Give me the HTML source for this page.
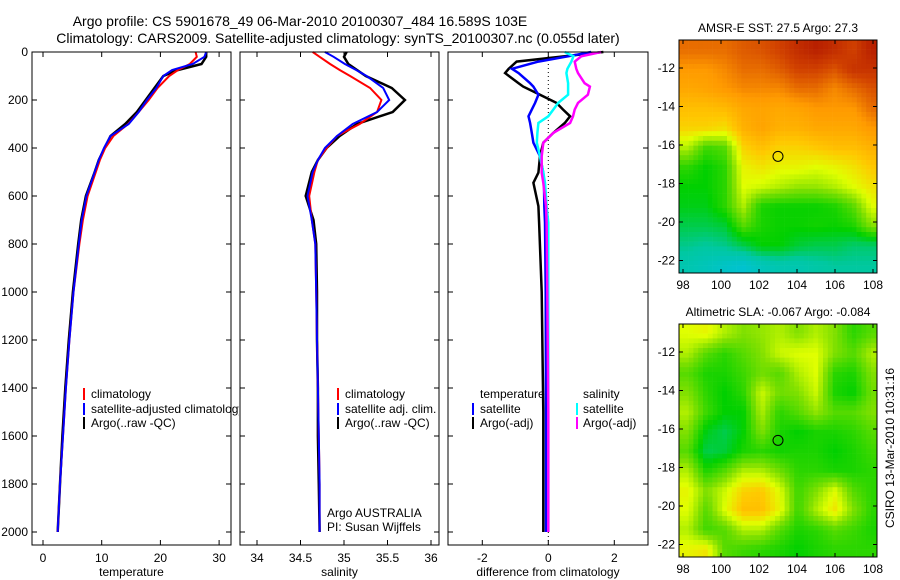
<!DOCTYPE html>
<html><head><meta charset="utf-8"><style>
body{margin:0;background:#fff}
svg{display:block;font-family:"Liberation Sans",sans-serif;font-size:12px}
</style></head><body>
<svg id="c" width="900" height="580" viewBox="0 0 900 580">
<defs><clipPath id="clipT"><rect x="32" y="52" width="207" height="493"/></clipPath></defs>
</svg>
<script>
const depthP=[0,20,50,75,100,150,200,250,300,350,400,450,500,600,700,800,1000,1200,1400,1600,1800,2000];
const argoT=[27.8,27.8,27,23,20.5,19,17.5,16,14,11.5,10.5,9.5,8.8,7.3,6.5,6,5.1,4.4,3.8,3.3,2.9,2.5];
const climT=[26,26.2,25,23,21.5,19.5,18,16.3,14.5,12,10.6,9.7,9,7.6,6.8,6.2,5.2,4.5,3.9,3.4,2.9,2.5];
const satT=[27.8,27.5,25.5,22,20.5,19.3,17.7,16.3,14.6,11.5,10.4,9.5,8.8,7.4,6.6,6.1,5.2,4.5,3.9,3.4,2.9,2.5];
const argoS=[35.03,35.0,35.05,35.15,35.25,35.55,35.7,35.56,35.15,34.95,34.8,34.7,34.63,34.56,34.65,34.68,34.69,34.69,34.7,34.7,34.71,34.72];
const climS=[34.64,34.72,34.84,34.95,35.07,35.3,35.43,35.38,35.18,34.92,34.8,34.7,34.66,34.6,34.63,34.67,34.68,34.69,34.7,34.71,34.72,34.72];
const satS=[34.78,34.88,35.01,35.14,35.26,35.45,35.52,35.38,35.1,34.92,34.78,34.7,34.64,34.58,34.63,34.67,34.68,34.69,34.7,34.71,34.72,34.72];
const depthD=[0,18,40,70,88,130,144,178,212,240,268,296,337,378,434,503,545,642,711,1000,1500,2000];
const argoDT=[1.67,0.5,-0.96,-1.2,-1.31,-0.9,-0.76,-0.25,0.25,0.45,0.66,0.5,0.15,-0.15,-0.25,-0.3,-0.45,-0.3,-0.28,-0.2,-0.15,-0.15];
const satDT=[1.3,0.6,-0.3,-1.1,-0.9,-0.55,-0.45,-0.3,-0.4,-0.5,-0.6,-0.55,-0.5,-0.45,-0.25,-0.15,-0.13,-0.12,-0.1,-0.08,-0.07,-0.07];
const satDS=[0.5,0.76,0.7,0.58,0.55,0.6,0.6,0.6,0.3,0.15,0.0,-0.3,-0.33,-0.35,-0.25,-0.15,-0.1,-0.05,0,0,0,0];
const argoDS=[1.6,1.0,0.8,0.85,0.9,1.1,1.26,1.2,0.9,0.8,0.75,0.66,0.15,-0.15,-0.2,-0.2,-0.15,-0.07,-0.05,-0.03,0,0];
const depthTicks=[0,200,400,600,800,1000,1200,1400,1600,1800,2000];
const tempTicks=[0,10,20,30];
const salTicks=[34,34.5,35,35.5,36];
const diffTicks=[-2,0,2];
const lonTicks=[98,100,102,104,106,108];
const latTicks=[-12,-14,-16,-18,-20,-22];
const floatLon=103, floatLat=-16.589;
const sstGrid=[
[0.85,0.85,0.85,0.87,0.88,0.9,0.93,0.95,0.93,0.9,0.95],
[0.8,0.8,0.82,0.85,0.85,0.87,0.9,0.9,0.88,0.92,0.92],
[0.77,0.78,0.8,0.82,0.82,0.82,0.85,0.85,0.82,0.85,0.88],
[0.72,0.72,0.73,0.77,0.78,0.77,0.78,0.8,0.8,0.8,0.85],
[0.68,0.68,0.66,0.75,0.78,0.75,0.75,0.77,0.77,0.77,0.8],
[0.55,0.42,0.45,0.68,0.72,0.68,0.68,0.7,0.72,0.72,0.75],
[0.4,0.35,0.4,0.62,0.65,0.62,0.62,0.6,0.62,0.65,0.7],
[0.35,0.35,0.4,0.6,0.58,0.55,0.52,0.52,0.55,0.6,0.65],
[0.33,0.33,0.4,0.55,0.38,0.36,0.36,0.36,0.38,0.45,0.6],
[0.28,0.28,0.3,0.45,0.38,0.36,0.36,0.37,0.36,0.38,0.5],
[0.22,0.2,0.22,0.28,0.35,0.35,0.3,0.28,0.28,0.25,0.25],
[0.15,0.12,0.08,0.05,0.12,0.15,0.15,0.18,0.2,0.2,0.2]];
const slaGrid=[
[0.6,0.62,0.55,0.5,0.52,0.55,0.5,0.55,0.5,0.4,0.45],
[0.55,0.45,0.4,0.45,0.5,0.58,0.6,0.6,0.5,0.45,0.55],
[0.45,0.38,0.38,0.42,0.48,0.45,0.55,0.6,0.4,0.38,0.5],
[0.5,0.4,0.35,0.4,0.58,0.48,0.5,0.58,0.38,0.35,0.48],
[0.55,0.42,0.35,0.35,0.55,0.4,0.45,0.52,0.45,0.45,0.5],
[0.5,0.33,0.28,0.35,0.5,0.38,0.35,0.38,0.38,0.4,0.45],
[0.45,0.28,0.3,0.38,0.4,0.37,0.38,0.38,0.35,0.38,0.42],
[0.55,0.38,0.45,0.55,0.55,0.48,0.4,0.4,0.38,0.38,0.4],
[0.62,0.5,0.58,0.68,0.7,0.6,0.42,0.5,0.6,0.45,0.4],
[0.6,0.45,0.6,0.72,0.72,0.62,0.42,0.55,0.65,0.5,0.4],
[0.55,0.42,0.45,0.55,0.55,0.45,0.38,0.4,0.45,0.42,0.38],
[0.62,0.65,0.45,0.42,0.4,0.38,0.35,0.38,0.4,0.4,0.4]];

const svg=document.getElementById('c');const NS='http://www.w3.org/2000/svg';
function mk(t,a,p){const e=document.createElementNS(NS,t);for(const k in a)e.setAttribute(k,a[k]);(p||svg).appendChild(e);return e;}
function txt(s,x,y,anchor,p,extra){const e=mk('text',Object.assign({x:x,y:y,'text-anchor':anchor||'start',fill:'#000'},extra||{}),p);e.textContent=s;return e;}
const TOP=52,BOT=545;
function yD(d){return TOP+d*0.24;}
const panels=[
 {name:'temperature',x0:32,x1:231,v0:0,px0:43,scale:5.87,ticks:tempTicks,label:'temperature'},
 {name:'salinity',x0:240,x1:439,v0:34,px0:257,scale:87,ticks:salTicks,label:'salinity'},
 {name:'difference',x0:448,x1:648,v0:0,px0:548.3,scale:33,ticks:diffTicks,label:'difference from climatology'}];
function xf(p,v){return p.px0+(v-p.v0)*p.scale;}
function line(p,vals,deps,color,w,nm){
  const g=mk('g',{},p.g);
  const d=vals.map((v,i)=>(i?'L':'M')+xf(p,v).toFixed(1)+','+yD(deps[i]).toFixed(1)).join('');
  mk('path',{d:d,fill:'none',stroke:color,'stroke-width':w},g);
}
panels.forEach((p,pi)=>{
  const g=mk('g',{});
  mk('rect',{x:p.x0,y:TOP,width:p.x1-p.x0,height:BOT-TOP,fill:'#fff',stroke:'none'},g);
  p.g=g;
});
const [P1,P2,P3]=panels;
mk('line',{x1:xf(P3,0),x2:xf(P3,0),y1:TOP,y2:BOT,stroke:'#000','stroke-dasharray':'1,3','stroke-width':1},P3.g);
line(P1,argoT,depthP,'#000',2.5,'argo-temperature-line');
line(P1,climT,depthP,'#f00',2,'climatology-temperature-line');
line(P1,satT,depthP,'#00f',2,'satellite-temperature-line');
line(P2,argoS,depthP,'#000',2.5,'argo-salinity-line');
line(P2,climS,depthP,'#f00',2,'climatology-salinity-line');
line(P2,satS,depthP,'#00f',2,'satellite-salinity-line');
line(P3,argoDT,depthD,'#000',2.5,'argo-temperature-diff-line');
line(P3,satDT,depthD,'#00f',2.5,'satellite-temperature-diff-line');
line(P3,satDS,depthD,'#0ff',2.5,'satellite-salinity-diff-line');
line(P3,argoDS,depthD,'#f0f',2.5,'argo-salinity-diff-line');
function leg(entries,bx,tx,ys,nm,parent){entries.forEach((e,i)=>{const g=mk('g',{},parent);
 if(e[1])mk('rect',{x:bx,y:ys[i]-9,width:2,height:12,fill:e[1]},g);txt(e[0],tx,ys[i]+1,'start',g);});}
const lgT=mk('g',{'clip-path':'url(#clipT)'});
leg([['climatology','#f00'],['satellite-adjusted climatology','#00f'],['Argo(..raw -QC)','#000']],83,91,[397,412,426],'temperature-legend-entry',lgT);
leg([['climatology','#f00'],['satellite adj. clim.','#00f'],['Argo(..raw -QC)','#000']],337,345,[397,412,426],'salinity-legend-entry',P2.g);
leg([['temperature',null],['satellite','#00f'],['Argo(-adj)','#000']],472,480,[397,412,426],'diff-temp-legend',P3.g);
leg([['salinity',null],['satellite','#0ff'],['Argo(-adj)','#f0f']],576,583,[397,412,426],'diff-sal-legend',P3.g);
txt('Argo AUSTRALIA',327,517,'start',P2.g);txt('PI: Susan Wijffels',327,531,'start',P2.g);
// repaint panel 2 left edge over overflowing legend is handled by clip
panels.forEach((p,pi)=>{
  const g=mk('g',{});
  mk('rect',{x:p.x0,y:TOP,width:p.x1-p.x0,height:BOT-TOP,fill:'none',stroke:'#000','stroke-width':1},g);
  p.ticks.forEach(t=>{const x=xf(p,t);mk('line',{x1:x,x2:x,y1:BOT,y2:BOT-5,stroke:'#000'},g);mk('line',{x1:x,x2:x,y1:TOP,y2:TOP+5,stroke:'#000'},g);
   const l=txt(String(t),x,562,'middle',g);});
  depthTicks.forEach(d=>{const y=yD(d);mk('line',{x1:p.x0,x2:p.x0+5,y1:y,y2:y,stroke:'#000'},g);mk('line',{x1:p.x1,x2:p.x1-5,y1:y,y2:y,stroke:'#000'},g);
   if(pi==0){const l=txt(String(d),28,y+4,'end',g);}});
  const xl=txt(p.label,(p.x0+p.x1)/2,576,'middle',g);
});
const t1=txt('Argo profile: CS 5901678_49 06-Mar-2010 20100307_484 16.589S 103E',300,26,'middle');
t1.setAttribute('font-size','14');
const t2=txt('Climatology: CARS2009. Satellite-adjusted climatology: synTS_20100307.nc (0.055d later)',338,43,'middle');
t2.setAttribute('font-size','14');
const stops=[[0,[0,192,224]],[0.2,[0,200,160]],[0.35,[0,208,0]],[0.5,[128,224,0]],[0.6,[224,255,0]],[0.7,[255,200,0]],[0.8,[255,154,0]],[0.9,[208,64,0]],[1,[160,0,0]]];
function cmap(v){v=Math.max(0,Math.min(1,v));for(let i=1;i<stops.length;i++){if(v<=stops[i][0]){const a=stops[i-1],b=stops[i],f=(v-a[0])/(b[0]-a[0]);return 'rgb('+a[1].map((c,k)=>Math.round(c+(b[1][k]-c)*f)).join(',')+')';}}return 'rgb(160,0,0)';}
function sample(G,r,c){const R=G.length,C=G[0].length;r=Math.max(0,Math.min(R-1,r));c=Math.max(0,Math.min(C-1,c));const r0=Math.floor(r),c0=Math.floor(c),r1=Math.min(R-1,r0+1),c1=Math.min(C-1,c0+1),fr=r-r0,fc=c-c0;
 return G[r0][c0]*(1-fr)*(1-fc)+G[r0][c1]*(1-fr)*fc+G[r1][c0]*fr*(1-fc)+G[r1][c1]*fr*fc;}
function map(G,top,title,nm){
  const L=679,R=877,B=top+233;const lonX=lo=>683+(lo-98)*19;const latY=la=>top+28+(-12-la)*19.25;
  const g=mk('g',{});
  const cs=4.8;const rows=Math.ceil((B-top)/cs),cols=Math.ceil((R-L)/cs);
  for(let i=0;i<rows;i++)for(let j=0;j<cols;j++){
    const r=(i+0.5)/rows*G.length-0.5,c=(j+0.5)/cols*G[0].length-0.5;
    const cell=mk('rect',{x:(L+j*cs).toFixed(1),y:(top+i*cs).toFixed(1),width:cs+0.3,height:cs+0.3,fill:cmap(sample(G,r,c))},g);
    
  }
  mk('rect',{x:R,y:top,width:20,height:240,fill:'#fff'},g);mk('rect',{x:L,y:B,width:200,height:20,fill:'#fff'},g);
  mk('rect',{x:L,y:top,width:R-L,height:B-top,fill:'none',stroke:'#000'},g);
  lonTicks.forEach(lo=>{const x=lonX(lo);mk('line',{x1:x,x2:x,y1:B,y2:B-4,stroke:'#000'},g);mk('line',{x1:x,x2:x,y1:top,y2:top+4,stroke:'#000'},g);txt(String(lo),x,B+16,'middle',g);});
  latTicks.forEach(la=>{const y=latY(la);mk('line',{x1:L,x2:L+4,y1:y,y2:y,stroke:'#000'},g);mk('line',{x1:R,x2:R-4,y1:y,y2:y,stroke:'#000'},g);txt(String(la),L-4,y+4,'end',g);});
  const c=mk('circle',{cx:lonX(floatLon),cy:latY(floatLat),r:5,fill:'none',stroke:'#000'},g);
  
  const t=txt(title,(L+R)/2,top-8,'middle',g);
}
map(sstGrid,40,'AMSR-E SST: 27.5 Argo: 27.3','sst-map');
map(slaGrid,324,'Altimetric SLA: -0.067 Argo: -0.084','sla-map');
const cs=txt('CSIRO 13-Mar-2010 10:31:16',0,0,'middle',svg,{transform:'translate(894,448) rotate(-90)'});

</script>
</body></html>
